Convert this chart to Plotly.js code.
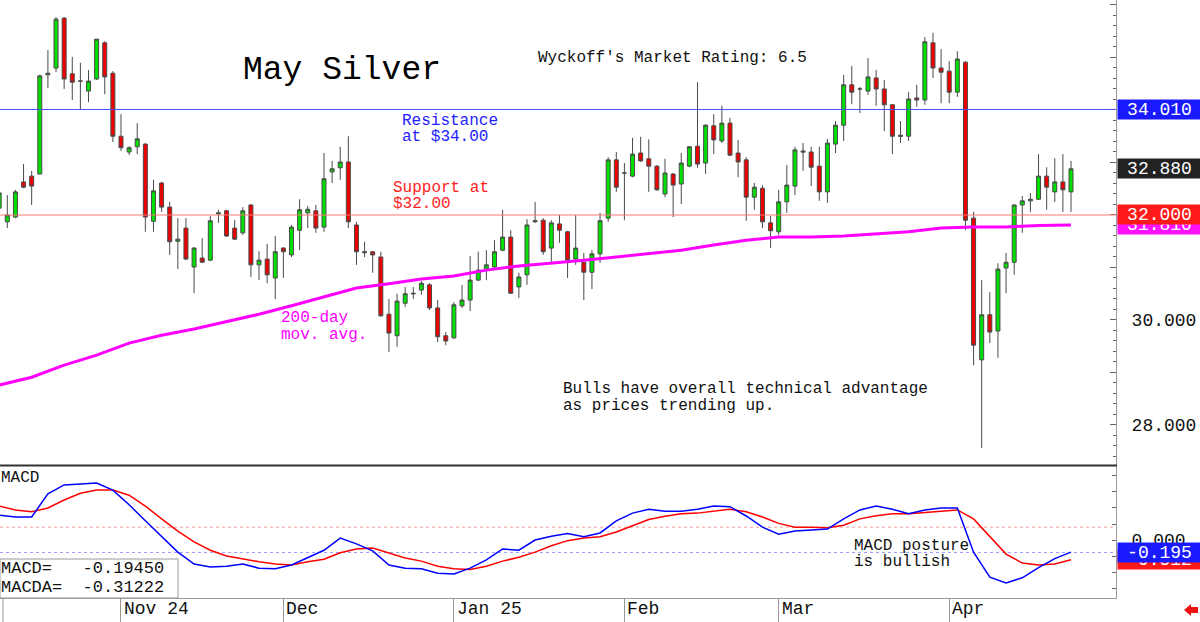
<!DOCTYPE html>
<html><head><meta charset="utf-8">
<script src="https://cdn.plot.ly/plotly-3.0.1.min.js"></script>
<style>html,body{margin:0;padding:0;background:#fff;}#chart{width:1200px;height:622px;}</style>
</head><body><div id="chart"></div>
<script>
// ---------- DATA ----------
const dates = [
'2024-10-11','2024-10-14','2024-10-15','2024-10-16','2024-10-17','2024-10-18','2024-10-21','2024-10-22','2024-10-23','2024-10-24','2024-10-25','2024-10-28','2024-10-29','2024-10-30','2024-10-31',
'2024-11-01','2024-11-04','2024-11-05','2024-11-06','2024-11-07','2024-11-08','2024-11-11','2024-11-12','2024-11-13','2024-11-14','2024-11-15','2024-11-18','2024-11-19','2024-11-20','2024-11-21','2024-11-22','2024-11-25','2024-11-26','2024-11-27','2024-11-29',
'2024-12-02','2024-12-03','2024-12-04','2024-12-05','2024-12-06','2024-12-09','2024-12-10','2024-12-11','2024-12-12','2024-12-13','2024-12-16','2024-12-17','2024-12-18','2024-12-19','2024-12-20','2024-12-23','2024-12-24','2024-12-26','2024-12-27','2024-12-30','2024-12-31',
'2025-01-02','2025-01-03','2025-01-06','2025-01-07','2025-01-08','2025-01-09','2025-01-10','2025-01-13','2025-01-14','2025-01-15','2025-01-16','2025-01-17','2025-01-21','2025-01-22','2025-01-23','2025-01-24','2025-01-27','2025-01-28','2025-01-29','2025-01-30','2025-01-31',
'2025-02-03','2025-02-04','2025-02-05','2025-02-06','2025-02-07','2025-02-10','2025-02-11','2025-02-12','2025-02-13','2025-02-14','2025-02-18','2025-02-19','2025-02-20','2025-02-21','2025-02-24','2025-02-25','2025-02-26','2025-02-27','2025-02-28',
'2025-03-03','2025-03-04','2025-03-05','2025-03-06','2025-03-07','2025-03-10','2025-03-11','2025-03-12','2025-03-13','2025-03-14','2025-03-17','2025-03-18','2025-03-19','2025-03-20','2025-03-21','2025-03-24','2025-03-25','2025-03-26','2025-03-27','2025-03-28','2025-03-31',
'2025-04-01','2025-04-02','2025-04-03','2025-04-04','2025-04-07','2025-04-08','2025-04-09','2025-04-10','2025-04-11','2025-04-14','2025-04-15','2025-04-16','2025-04-17','2025-04-21','2025-04-22','2025-04-23'];

const openP = [32.13,31.87,31.96,32.63,32.74,32.78,34.67,34.80,35.75,34.69,
34.55,34.36,34.59,35.28,34.70,33.50,33.20,33.30,33.35,31.88,
32.61,32.15,31.50,31.75,31.01,31.18,31.14,32.02,32.08,31.75,
31.66,32.19,31.05,31.16,30.80,31.37,31.24,31.71,32.04,32.08,
31.77,32.82,32.90,33.01,31.81,31.28,31.30,31.20,30.11,29.70,
30.32,30.51,30.57,30.67,30.23,29.70,29.66,30.27,30.38,30.76,
30.97,31.01,31.33,31.58,30.63,30.86,31.87,31.90,31.37,31.83,
31.68,31.16,31.10,30.91,31.26,31.94,33.05,32.80,32.74,33.18,
33.07,32.93,32.40,32.78,32.59,32.93,33.31,32.99,33.70,33.41,
33.75,33.18,33.05,32.34,32.51,31.85,31.68,32.25,32.55,33.22,
33.20,32.93,32.44,33.35,33.71,34.48,34.40,34.36,34.61,34.40,
34.10,33.52,33.50,34.23,34.19,35.28,34.80,34.74,34.34,34.91,
31.94,29.24,30.10,29.79,30.99,31.10,32.19,32.27,32.30,32.74,
32.44,32.63,32.44];

const highP = [32.46,32.38,32.48,32.97,32.84,34.67,35.14,35.77,35.77,35.01,
34.90,34.76,35.35,35.31,34.74,33.92,33.31,33.75,33.37,32.67,
32.63,32.25,31.94,31.94,31.39,31.56,31.98,32.10,32.10,31.90,
32.15,32.21,31.31,31.45,31.60,31.39,31.81,32.30,32.17,32.19,
33.18,33.03,33.30,33.50,31.87,31.49,31.31,31.30,30.40,30.50,
30.63,30.63,30.74,30.70,30.38,29.77,30.34,30.67,31.22,31.30,
31.33,31.52,32.10,31.71,30.90,31.92,32.25,31.94,31.90,32.00,
31.70,32.00,31.28,31.33,32.04,33.10,33.20,32.99,33.47,33.49,
33.44,32.95,33.07,32.80,33.18,33.31,34.53,33.73,33.92,34.08,
33.85,33.43,33.10,32.61,32.57,31.98,32.48,32.95,33.30,33.37,
33.30,33.30,33.45,33.79,34.67,34.84,34.44,34.99,34.76,34.57,
34.11,33.79,34.34,34.48,35.39,35.47,35.16,34.93,35.12,34.93,
32.06,30.76,30.53,31.08,31.28,32.21,32.36,32.42,33.16,32.91,
33.08,33.16,33.03];

const lowP = [32.10,31.75,31.94,32.51,32.19,32.78,34.42,34.72,34.40,34.19,
34.00,34.15,34.57,34.30,33.39,33.22,33.14,33.16,31.68,31.68,
32.06,31.24,30.97,31.14,30.51,31.09,31.12,31.85,31.58,31.52,
31.62,30.82,30.76,30.70,30.40,30.80,31.20,31.33,31.75,31.66,
31.68,32.61,32.67,31.75,31.05,31.20,30.90,30.06,29.39,29.49,
30.25,30.40,30.48,30.19,29.58,29.52,29.64,30.23,30.17,30.74,
30.76,30.99,31.31,30.50,30.42,30.67,31.85,31.24,31.10,31.47,
30.80,31.05,30.38,30.59,31.09,31.87,32.44,31.90,32.72,33.01,
32.44,32.46,32.34,31.96,32.21,32.91,32.90,32.78,33.16,33.37,
33.12,32.72,31.89,32.10,31.75,31.37,31.62,32.04,32.38,32.84,
32.55,32.27,32.23,33.18,33.41,34.11,33.94,34.29,34.08,33.60,
33.16,33.37,33.41,34.06,34.10,34.61,34.13,34.13,34.25,31.71,
29.14,27.56,29.56,29.28,30.51,30.86,31.66,32.06,32.29,32.10,
32.25,32.06,32.06];

const closeP = [32.42,32.00,32.44,32.53,32.55,34.65,34.70,35.73,34.59,34.53,
34.55,34.55,35.35,34.63,33.50,33.28,33.28,33.45,31.96,32.46,
32.15,31.49,31.54,31.16,31.37,31.10,31.89,32.04,31.60,31.54,
32.08,31.05,31.14,30.86,31.30,31.30,31.77,32.10,32.11,31.75,
32.69,32.88,33.01,31.87,31.30,31.30,31.24,30.08,29.75,30.36,
30.50,30.50,30.70,30.23,29.68,29.60,30.29,30.38,30.76,30.95,
31.05,31.30,31.58,30.51,30.82,31.81,31.89,31.30,31.85,31.71,
31.14,31.37,30.91,31.26,31.89,33.05,32.53,32.80,33.16,33.03,
32.93,32.48,32.80,32.57,32.99,33.30,32.97,33.71,33.43,33.75,
33.14,33.01,32.34,32.53,31.87,31.70,32.25,32.57,33.24,33.20,
32.91,32.44,33.37,33.71,34.48,34.34,34.40,34.63,34.40,34.10,
33.50,33.50,34.21,34.19,35.30,34.80,34.72,34.34,34.97,31.90,
29.52,30.10,29.77,30.97,31.10,32.19,32.27,32.30,32.74,32.53,
32.63,32.48,32.88];

// 200-day moving average, read every 4th session
const maDates = ['2024-10-11','2024-10-17','2024-10-23','2024-10-29','2024-11-04','2024-11-08','2024-11-14','2024-11-20','2024-11-26','2024-12-03','2024-12-09','2024-12-13','2024-12-19','2024-12-26','2025-01-02','2025-01-08','2025-01-14','2025-01-21','2025-01-27','2025-01-31','2025-02-06','2025-02-12','2025-02-19','2025-02-25','2025-03-03','2025-03-07','2025-03-13','2025-03-19','2025-03-25','2025-03-31','2025-04-04','2025-04-10','2025-04-16','2025-04-23'];
const maValues = [28.76,28.91,29.14,29.33,29.56,29.71,29.83,29.97,30.11,30.27,30.44,30.61,30.69,30.78,30.84,30.95,31.03,31.08,31.14,31.20,31.26,31.33,31.43,31.52,31.58,31.58,31.60,31.64,31.68,31.75,31.77,31.77,31.80,31.81];

// MACD (blue) and MACDA / signal (red), read every 2nd session
const macdDates = dates.filter((d, i) => i % 2 === 0);
const macdValues = [0.39,0.36,0.36,0.72,0.86,0.87,0.89,0.78,0.55,0.30,
0.06,-0.19,-0.375,-0.42,-0.41,-0.375,-0.44,-0.45,-0.39,-0.27,
-0.16,0.03,-0.06,-0.17,-0.39,-0.44,-0.45,-0.52,-0.53,-0.44,
-0.31,-0.14,-0.16,0.0,0.06,0.10,0.05,0.11,0.30,0.42,
0.48,0.45,0.45,0.48,0.53,0.52,0.375,0.20,0.09,0.14,
0.16,0.17,0.33,0.47,0.53,0.48,0.41,0.47,0.50,0.50,
-0.19,-0.58,-0.67,-0.59,-0.43,-0.29,-0.19];
const signalValues = [0.53,0.47,0.44,0.50,0.625,0.73,0.78,0.78,0.70,0.53,
0.33,0.14,-0.03,-0.16,-0.25,-0.30,-0.34,-0.375,-0.39,-0.34,
-0.30,-0.20,-0.14,-0.125,-0.20,-0.28,-0.33,-0.41,-0.45,-0.46,
-0.41,-0.33,-0.27,-0.19,-0.09,-0.01,0.03,0.05,0.125,0.22,
0.32,0.37,0.41,0.42,0.45,0.48,0.44,0.36,0.26,0.20,
0.20,0.19,0.23,0.33,0.38,0.41,0.41,0.43,0.45,0.47,
0.33,0.05,-0.22,-0.36,-0.39,-0.375,-0.31];

const monthTicks = ['2024-11-01','2024-12-02','2025-01-02','2025-02-03','2025-03-03','2025-04-01'];
const monthLabels = ['Nov 24','Dec','Jan 25','Feb','Mar','Apr'];

const resistanceLevel = 34.01;
const supportLevel = 32.00;
const macdNow = -0.19450;
const macdaNow = -0.31222;
const macdUpperRef = 0.2;

// ---------- LAYOUT HELPERS ----------
const W = 1200, H = 622, PR = 1116;
const FONT = 'Liberation Mono, DejaVu Sans Mono, monospace';
const px = v => v / W;
const py = v => 1 - v / H;
const NB = '\u00a0';

const traces = [
  {type:'candlestick', x:dates, open:openP, high:highP, low:lowP, close:closeP,
   xaxis:'x', yaxis:'y', hoverinfo:'skip', whiskerwidth:0,
   increasing:{fillcolor:'#00e000', line:{color:'#4a4a4a', width:1}},
   decreasing:{fillcolor:'#ee0000', line:{color:'#4a4a4a', width:1}}},
  {type:'scatter', mode:'lines', x:maDates, y:maValues, xaxis:'x', yaxis:'y',
   line:{color:'#ff00ff', width:3}, hoverinfo:'skip'},
  {type:'scatter', mode:'lines', x:macdDates, y:signalValues, xaxis:'x', yaxis:'y2',
   line:{color:'#ff0000', width:1.5}, hoverinfo:'skip'},
  {type:'scatter', mode:'lines', x:macdDates, y:macdValues, xaxis:'x', yaxis:'y2',
   line:{color:'#0000ff', width:1.5}, hoverinfo:'skip'}
];

function txt(text, x, y, size, color) {
  return {xref:'paper', yref:'paper', x:px(x), y:py(y), xanchor:'left', yanchor:'middle',
          text:text, showarrow:false, font:{family:FONT, size:size, color:color}};
}
function box(text, yval, yref, bg) {
  return {xref:'paper', yref:yref, x:px(PR + 1), y:yval, xanchor:'left', yanchor:'middle',
          text:text, showarrow:false, bgcolor:bg, width:81, height:17, borderpad:1, align:'center',
          font:{family:FONT, size:18, color:'#ffffff'}};
}

const annotations = [
  txt('May Silver', 241, 71, 33, '#000'),
  txt("Wyckoff's Market Rating: 6.5", 536, 58, 16, '#111'),
  txt('Resistance', 400, 121, 16, '#2222ff'),
  txt('at $34.00', 400, 137, 16, '#2222ff'),
  txt('Support at', 391, 188, 16, '#ff2222'),
  txt('$32.00', 391, 204, 16, '#ff2222'),
  txt('200-day', 279, 318, 16, '#ff00ff'),
  txt('mov. avg.', 279, 335, 16, '#ff00ff'),
  txt('Bulls have overall technical advantage', 561, 389, 16, '#111'),
  txt('as prices trending up.', 561, 406, 16, '#111'),
  txt('MACD', -1, 478, 16, '#111'),
  txt('MACD posture', 852, 546, 16, '#111'),
  txt('is bullish', 852, 562, 16, '#111'),
  txt('MACD=' + NB + NB + NB + macdNow.toFixed(5), -1, 568, 17, '#111'),
  txt('MACDA=' + NB + NB + macdaNow.toFixed(5), -1, 587, 17, '#111'),
  // right-hand value boxes (later ones drawn on top, as in the original)
  box(maValues[maValues.length - 1].toFixed(3), maValues[maValues.length - 1], 'y', '#ff10ff'),
  box(supportLevel.toFixed(3), supportLevel, 'y', '#ff1a1a'),
  box(closeP[closeP.length - 1].toFixed(3), closeP[closeP.length - 1], 'y', '#222222'),
  box(resistanceLevel.toFixed(3), resistanceLevel, 'y', '#1a1aff'),
  box(macdaNow.toFixed(3), macdaNow, 'y2', '#ff1a1a'),
  box(macdNow.toFixed(3), macdNow, 'y2', '#1a1aff')
];
monthTicks.forEach((d, k) => {
  annotations.push({xref:'x', yref:'paper', x:dates.indexOf(d), y:py(609), xanchor:'left', yanchor:'middle',
    xshift:1, text:monthLabels[k], showarrow:false, font:{family:FONT, size:18, color:'#111'}});
});

function pathPx(pts) {
  return 'M' + pts.map(p => px(p[0]).toFixed(5) + ',' + py(p[1]).toFixed(5)).join(' L') + ' Z';
}

const shapes = [
  {type:'line', xref:'paper', yref:'y', x0:0, x1:px(PR), y0:resistanceLevel, y1:resistanceLevel,
   line:{color:'#4d4dff', width:1}, layer:'above'},
  {type:'line', xref:'paper', yref:'y', x0:0, x1:px(PR), y0:supportLevel, y1:supportLevel,
   line:{color:'#ff7777', width:1}, layer:'above'},
  {type:'line', xref:'paper', yref:'y2', x0:0, x1:px(PR), y0:macdUpperRef, y1:macdUpperRef,
   line:{color:'#ff9a9a', width:1, dash:'dot'}, layer:'below'},
  {type:'line', xref:'paper', yref:'y2', x0:0, x1:px(PR), y0:macdNow, y1:macdNow,
   line:{color:'#9a9aff', width:1, dash:'dot'}, layer:'below'},
  {type:'line', xref:'paper', yref:'paper', x0:0, x1:px(PR + 1), y0:py(465.5), y1:py(465.5),
   line:{color:'#333333', width:2}, layer:'above'},
  {type:'rect', xref:'paper', yref:'paper', x0:px(0), x1:px(178), y0:py(598), y1:py(559),
   line:{color:'#999999', width:1}, fillcolor:'#ffffff', layer:'above'},
  {type:'line', xref:'paper', yref:'paper', x0:px(3), x1:px(3), y0:py(599), y1:py(622),
   line:{color:'#999999', width:1}},
  {type:'path', xref:'paper', yref:'paper', fillcolor:'#ee1111', line:{color:'#ee1111', width:0},
   path:pathPx([[1184,610],[1191,604],[1191,607],[1198,607],[1198,613],[1191,613],[1191,616]])}
];

const layout = {
  width:W, height:H, margin:{l:0, r:0, t:0, b:0, pad:0},
  paper_bgcolor:'#ffffff', plot_bgcolor:'#ffffff', showlegend:false,
  font:{family:FONT, color:'#111'},
  xaxis:{type:'category', categoryorder:'array', categoryarray:dates, domain:[0, px(PR)],
    range:[0.1, 137.54], anchor:'y2', rangeslider:{visible:false}, showgrid:false, zeroline:false,
    showline:true, linecolor:'#999', linewidth:1, ticks:'outside', ticklen:24, tickcolor:'#999',
    tickwidth:1, tickmode:'array', tickvals:monthTicks, showticklabels:false},
  yaxis:{domain:[py(465), 1], range:[27.238, 36.095], side:'right', anchor:'x', showgrid:false,
    zeroline:false, showline:true, linecolor:'#999', linewidth:1, ticks:'inside', ticklen:6,
    tickcolor:'#666', tickmode:'linear', tick0:0, dtick:1, tickformat:'.3f',
    labelalias:{'29.000':' ', '31.000':' ', '32.000':' ', '33.000':' ', '34.000':' ', '35.000':' ', '36.000':' '},
    minor:{ticks:'inside', ticklen:3, tickcolor:'#666', tick0:0, dtick:0.2, showgrid:false},
    tickfont:{family:FONT, size:18, color:'#111'}, ticklabelstandoff:11},
  yaxis2:{domain:[py(598), py(466)], range:[-0.906, 1.156], side:'right', anchor:'x', showgrid:false,
    zeroline:false, showline:true, linecolor:'#999', linewidth:1, ticks:'inside', ticklen:4,
    tickcolor:'#666', tickmode:'array', tickvals:[-0.75,-0.5,-0.25,0,0.25,0.5,0.75,1],
    ticktext:['','','','0.000','','','',''], tickfont:{family:FONT, size:18, color:'#111'},
    ticklabelstandoff:11},
  annotations:annotations,
  shapes:shapes
};

Plotly.newPlot('chart', traces, layout, {staticPlot:true, displayModeBar:false});
</script>
</body></html>
